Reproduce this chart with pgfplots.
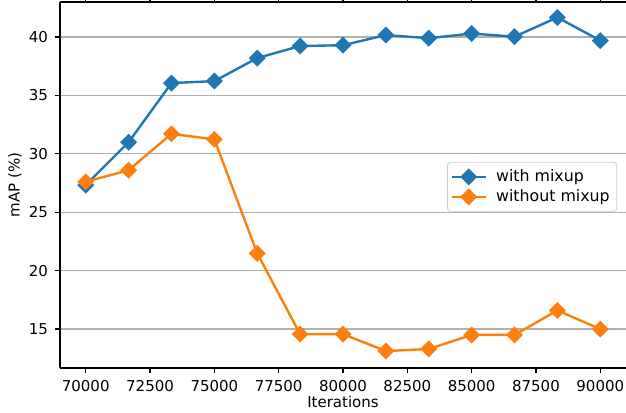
\documentclass[border=0pt]{standalone}
\usepackage{fontspec}
\setmainfont{DejaVu Sans}
\usepackage{pgfplots}
\pgfplotsset{compat=1.18}
\definecolor{cblue}{HTML}{1F77B4}
\definecolor{corange}{HTML}{FF7F0E}
\begin{document}
\begin{tikzpicture}
\useasboundingbox (-30pt,-22pt) rectangle (283pt,184pt);
\begin{axis}[
  scale only axis,
  width=283pt, height=183pt,
  xmin=69000, xmax=91000,
  ymin=11.67, ymax=43.0,
  axis x line*=box,
  axis y line*=left,
  axis line style={line width=0.6pt, black},
  xtick={70000,72500,75000,77500,80000,82500,85000,87500,90000},
  ytick={15,20,25,30,35,40},
  tick align=outside,
  major tick length=2.5pt,
  tick style={line width=0.6pt, black},
  xticklabel style={/pgf/number format/1000 sep={}},
  /pgf/number format/assume math mode=true,
  scaled x ticks=false,
  ymajorgrids,
  grid style={line width=0.6pt, color=black!31},
  tick label style={font=\fontsize{7.5}{9}\selectfont},
  label style={font=\fontsize{7.5}{9}\selectfont},
  xlabel={Iterations},
  ylabel={mAP (\%)},
  xlabel style={at={(axis description cs:0.5,-0.0929)}, anchor=center},
  ylabel style={at={(axis description cs:-0.0795,0.5)}, anchor=center},
  legend style={at={(0.684,0.563)}, anchor=north west, draw=black!20, rounded corners=1.5pt,
    font=\fontsize{7.9}{9}\selectfont, inner sep=1.5pt, row sep=-1.5pt,
    /tikz/every odd column/.append style={column sep=2.5pt}},
  legend cell align=left,
]
\addplot[cblue, line width=1.2pt, mark=square*, mark size=2.4pt, mark options={rotate=45, solid}]
coordinates {
(70000,27.33) (71667,31.0) (73333,36.06) (75000,36.23) (76667,38.2) (78333,39.23)
(80000,39.3) (81667,40.17) (83333,39.9) (85000,40.3) (86667,40.03) (88333,41.68) (90000,39.7)
};
\addlegendentry{with mixup}
\addplot[corange, line width=1.2pt, mark=square*, mark size=2.4pt, mark options={rotate=45, solid}]
coordinates {
(70000,27.61) (71667,28.6) (73333,31.72) (75000,31.24) (76667,21.48) (78333,14.57)
(80000,14.57) (81667,13.12) (83333,13.3) (85000,14.5) (86667,14.5) (88333,16.6) (90000,15.0)
};
\addlegendentry{without mixup}
\end{axis}
\end{tikzpicture}
\end{document}
